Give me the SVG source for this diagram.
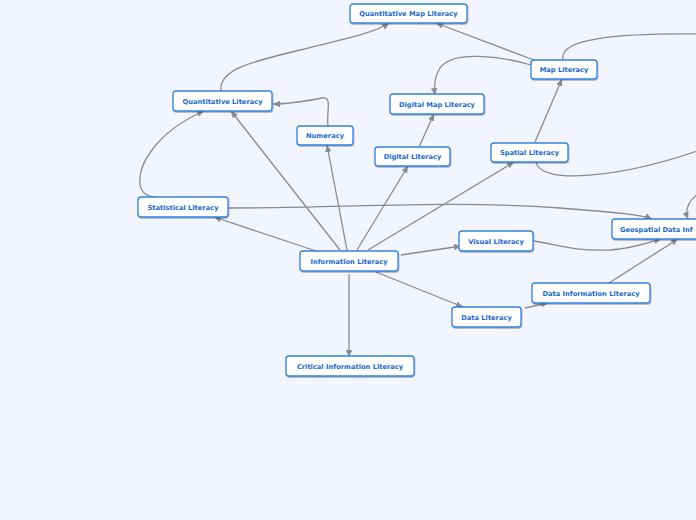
<svg xmlns="http://www.w3.org/2000/svg" width="696" height="520" viewBox="0 0 696 520">
<style>
.bg{fill:#f2f5fd}
.n rect{fill:#ffffff;stroke:#2f82e0;stroke-width:1.3;filter:url(#sh)}
.n text{font-family:"DejaVu Sans","Liberation Sans",sans-serif;font-weight:bold;font-size:6.7px;fill:#1a6ad0;text-anchor:middle;dominant-baseline:central}
.e path{fill:none;stroke:#878a96;stroke-width:1.3;marker-end:url(#ah)}
</style>
<defs>
<filter id="sh" x="-10%" y="-30%" width="120%" height="170%">
<feDropShadow dx="0.6" dy="1" stdDeviation="0.6" flood-color="#000" flood-opacity="0.3"/>
</filter>
<marker id="ah" markerUnits="userSpaceOnUse" markerWidth="8" markerHeight="8" refX="7" refY="4" orient="auto">
<path d="M0,0.8 L7,4 L0,7.2 Z" fill="#878a96"/>
</marker>
</defs>
<rect class="bg" x="0" y="0" width="696" height="520"/>
<g id="connectors" class="e">
<path d="M316,251 L214,217"/>
<path d="M340,250 L231,111"/>
<path d="M347,250 L327,145"/>
<path d="M357,250 L408,166"/>
<path d="M368,250 L514,162"/>
<path d="M401,255 L461,246"/>
<path d="M376,272 L463,307"/>
<path d="M349,274 L349,357"/>
<path d="M328,126 C326,112 333,96 322,98 C306,101 290,104 273,104"/>
<path d="M156,197 C132,196 138,168 152,150 C166,131 188,118 204,111"/>
<path d="M221,91 C218,70 250,62 300,50 C340,40 375,33 389,23"/>
<path d="M534,60 L436,23"/>
<path d="M531,65 C500,56 452,50 440,68 C434,77 434,87 435,95"/>
<path d="M419,147 L434,114"/>
<path d="M535,142 L562,79"/>
<path d="M563,60 C558,38 620,33 700,34 C780,35 780,190 740,215 C725,222 718,219 716,219"/>
<path d="M536,162 C540,185 620,178 700,150 C715,145 720,170 700,192 C690,200 684,208 688,219"/>
<path d="M229,208 C350,208 450,200 560,208 C610,212 640,214 652,219"/>
<path d="M534,241 C560,245 570,251 610,250 C630,249 648,243 661,239"/>
<path d="M609,283 L678,239"/>
<path d="M525,308 L548,303"/>
</g>
<g id="n-qml" class="n"><rect x="350" y="4" width="117" height="19" rx="3"/><text x="408.5" y="14">Quantitative Map Literacy</text></g>
<g id="n-map" class="n"><rect x="531" y="60" width="66" height="19" rx="3"/><text x="564" y="70">Map Literacy</text></g>
<g id="n-quant" class="n"><rect x="173" y="91" width="99" height="20" rx="3"/><text x="222.5" y="101.5">Quantitative Literacy</text></g>
<g id="n-dml" class="n"><rect x="390" y="94" width="94" height="20" rx="3"/><text x="437" y="104.5">Digital Map Literacy</text></g>
<g id="n-num" class="n"><rect x="297" y="126" width="56" height="19" rx="3"/><text x="325" y="135.5">Numeracy</text></g>
<g id="n-dig" class="n"><rect x="375" y="147" width="75" height="19" rx="3"/><text x="412.5" y="156.5">Digital Literacy</text></g>
<g id="n-spa" class="n"><rect x="491" y="143" width="77" height="19" rx="3"/><text x="529.5" y="152.5">Spatial Literacy</text></g>
<g id="n-stat" class="n"><rect x="138" y="197" width="90" height="20" rx="3"/><text x="183" y="207.5">Statistical Literacy</text></g>
<g id="n-geo" class="n"><rect x="612" y="219" width="160" height="20" rx="3"/><text x="620" y="229.5" style="text-anchor:start">Geospatial Data Inf</text></g>
<g id="n-info" class="n"><rect x="300" y="251" width="98" height="20" rx="3"/><text x="349" y="261.5">Information Literacy</text></g>
<g id="n-vis" class="n"><rect x="459" y="231" width="74" height="20" rx="3"/><text x="496" y="241.5">Visual Literacy</text></g>
<g id="n-dil" class="n"><rect x="532" y="283" width="118" height="20" rx="3"/><text x="591" y="293.5">Data Information Literacy</text></g>
<g id="n-data" class="n"><rect x="452" y="307" width="69" height="20" rx="3"/><text x="486.5" y="317.5">Data Literacy</text></g>
<g id="n-crit" class="n"><rect x="286" y="356" width="128" height="20" rx="3"/><text x="350" y="366.5">Critical Information Literacy</text></g>
</svg>
